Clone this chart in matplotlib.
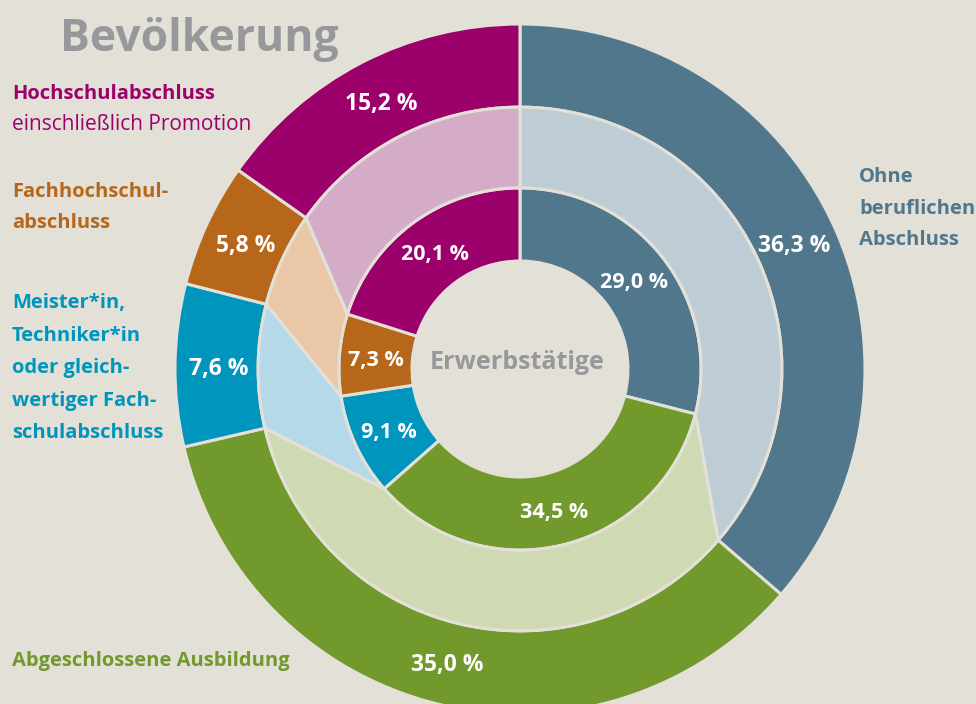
import numpy as np
import matplotlib.pyplot as plt

# Daten
kategorien = ['Ohne beruflichen Abschluss', 'Abgeschlossene Ausbildung',
              'Meister*in, Techniker*in oder gleichwertiger Fachschulabschluss',
              'Fachhochschulabschluss', 'Hochschulabschluss einschließlich Promotion']
bevoelkerung = [36.3, 35.0, 7.6, 5.8, 15.2]
erwerbstaetige = [29.0, 34.5, 9.1, 7.3, 20.1]

farben = ['#50778B', '#71992B', '#0095BC', '#B6671A', '#9C006A']
farben_hell = ['#BECCD5', '#CFDAB4', '#B5D9E9', '#E9C7A7', '#D5ACC8']
bg = '#E3E1D7'

W, H = 976, 704
cx, cy = 520, 369      # Mittelpunkt in Pixeln
scale = 345.0          # Pixel pro Einheit
r_out, r_out_in = 1.0, 0.759
r_in, r_hole = 0.525, 0.313

plt.rcParams['font.family'] = ['Open Sans', 'DejaVu Sans']

fig = plt.figure(figsize=(W / 100, H / 100), dpi=100, facecolor=bg)
ax = fig.add_axes([0, 0, 1, 1])
ax.set_facecolor(bg)

# äußerer Ring: Bevölkerung
ax.pie(bevoelkerung, radius=r_out, startangle=90, counterclock=False, colors=farben,
       wedgeprops=dict(width=r_out - r_out_in, edgecolor=bg, linewidth=2.2))
# innerer Ring: Erwerbstätige
ax.pie(erwerbstaetige, radius=r_in, startangle=90, counterclock=False, colors=farben,
       wedgeprops=dict(width=r_in - r_hole, edgecolor=bg, linewidth=2.2))


def winkel(anteile):
    a = np.concatenate([[0], np.cumsum(anteile)]) / np.sum(anteile)
    return np.radians(90 - a * 360)


wa = winkel(bevoelkerung)
wi = winkel(erwerbstaetige)

# Übergangsband zwischen den Ringen
for i in range(len(kategorien)):
    t_o = np.linspace(wa[i], wa[i + 1], 80)
    t_i = np.linspace(wi[i + 1], wi[i], 80)
    xs = np.concatenate([r_out_in * np.cos(t_o), r_in * np.cos(t_i)])
    ys = np.concatenate([r_out_in * np.sin(t_o), r_in * np.sin(t_i)])
    ax.fill(xs, ys, facecolor=farben_hell[i], edgecolor=bg, linewidth=2.2)


def fmt(v):
    return f'{v:.1f}'.replace('.', ',') + ' %'


r_lab_o = (r_out + r_out_in) / 2 - 0.005
r_lab_i = (r_in + r_hole) / 2
for i in range(len(kategorien)):
    m = (wa[i] + wa[i + 1]) / 2
    ax.text(r_lab_o * np.cos(m), r_lab_o * np.sin(m), fmt(bevoelkerung[i]),
            ha='center', va='center_baseline', color='white', fontsize=16.5, fontweight='bold')
    m = (wi[i] + wi[i + 1]) / 2
    ax.text(r_lab_i * np.cos(m), r_lab_i * np.sin(m), fmt(erwerbstaetige[i]),
            ha='center', va='center_baseline', color='white', fontsize=15.5, fontweight='bold')

ax.set_xlim(-cx / scale, (W - cx) / scale)
ax.set_ylim(-(H - cy) / scale, cy / scale)
ax.set_aspect('equal')
ax.set_axis_off()


def txt(x, y, s, c, size=14.5, weight='bold', **kw):
    fig.text(x / W, 1 - y / H, s, color=c, fontsize=size, fontweight=weight,
             va='baseline', **kw)


txt(60, 51, 'Bevölkerung', '#98989C', size=32)
txt(517, 369, 'Erwerbstätige', '#98989C', size=18, ha='center')

txt(12, 99, 'Hochschulabschluss', farben[4])
txt(12, 130, 'einschließlich Promotion', farben[4], size=15, weight='normal')
txt(12, 197, 'Fachhochschul-', farben[3])
txt(12, 228, 'abschluss', farben[3])
for k, zeile in enumerate(['Meister*in,', 'Techniker*in', 'oder gleich-',
                           'wertiger Fach-', 'schulabschluss']):
    txt(12, 308 + k * 32.6, zeile, farben[2])
for k, zeile in enumerate(['Ohne', 'beruflichen', 'Abschluss']):
    txt(859, 182 + k * 31.5, zeile, farben[0])
txt(12, 666, 'Abgeschlossene Ausbildung', farben[1])

fig.savefig('out.png', dpi=100, facecolor=bg)
